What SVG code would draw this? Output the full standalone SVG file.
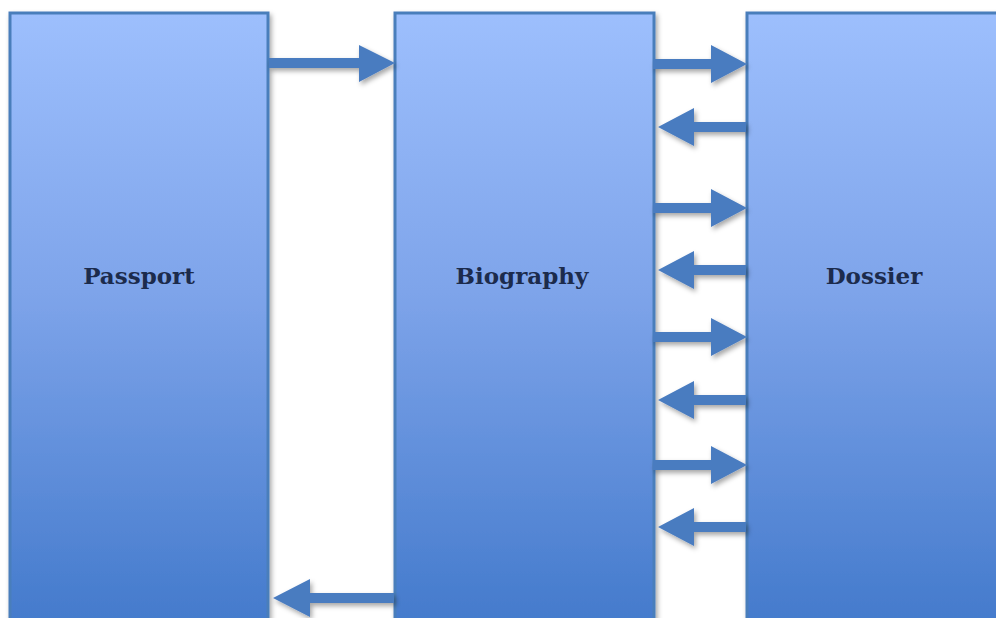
<svg xmlns="http://www.w3.org/2000/svg" width="996" height="618" viewBox="0 0 996 618">
<defs>
<linearGradient id="g" x1="0" y1="0" x2="0" y2="1">
<stop offset="0" stop-color="#9dbffd"/>
<stop offset="0.45" stop-color="#7ea4ea"/>
<stop offset="1" stop-color="#4279cb"/>
</linearGradient>
<filter id="sh" x="-10%" y="-10%" width="130%" height="130%">
<feDropShadow dx="2" dy="3" stdDeviation="2.5" flood-color="#000" flood-opacity="0.35"/>
</filter>
<path id="ar" d="M0,-5 L-58,-5 L-58,5 L0,5 L0,19 L36,0 L0,-19 Z"/>
<path id="al" d="M0,-5 L52,-5 L52,5 L0,5 L0,19 L-36,0 L0,-19 Z"/>
</defs>
<style>
.box{fill:url(#g);stroke:#4a7ebb;stroke-width:3;filter:url(#sh)}
.lbl{font-family:"DejaVu Serif","Liberation Serif",serif;font-size:23px;font-weight:bold;fill:#1c2b4c;text-anchor:middle}
.arr{fill:#4a7cc0;filter:url(#sh)}
</style>
<rect width="996" height="618" fill="#fff"/>
<g id="passport">
<rect class="box" x="10" y="13" width="258" height="620"/>
<text class="lbl" x="139" y="284">Passport</text>
</g>
<g id="biography">
<rect class="box" x="395" y="13" width="259" height="620"/>
<text class="lbl" x="522" y="284">Biography</text>
</g>
<g id="dossier">
<rect class="box" x="747" y="13" width="260" height="620"/>
<text class="lbl" x="874" y="284">Dossier</text>
</g>
<g id="connectors">
<path class="arr" d="M269,58 L359,58 L359,45 L395,63 L359,82 L359,68 L269,68 Z"/>
<path class="arr" d="M394,593 L310,593 L310,579 L273,598 L310,617 L310,603 L394,603 Z"/>
<use class="arr" href="#ar" x="711" y="64"/>
<use class="arr" href="#al" x="694" y="127"/>
<use class="arr" href="#ar" x="711" y="208"/>
<use class="arr" href="#al" x="694" y="270"/>
<use class="arr" href="#ar" x="711" y="337"/>
<use class="arr" href="#al" x="694" y="400"/>
<use class="arr" href="#ar" x="711" y="465"/>
<use class="arr" href="#al" x="694" y="527"/>
</g>
</svg>
